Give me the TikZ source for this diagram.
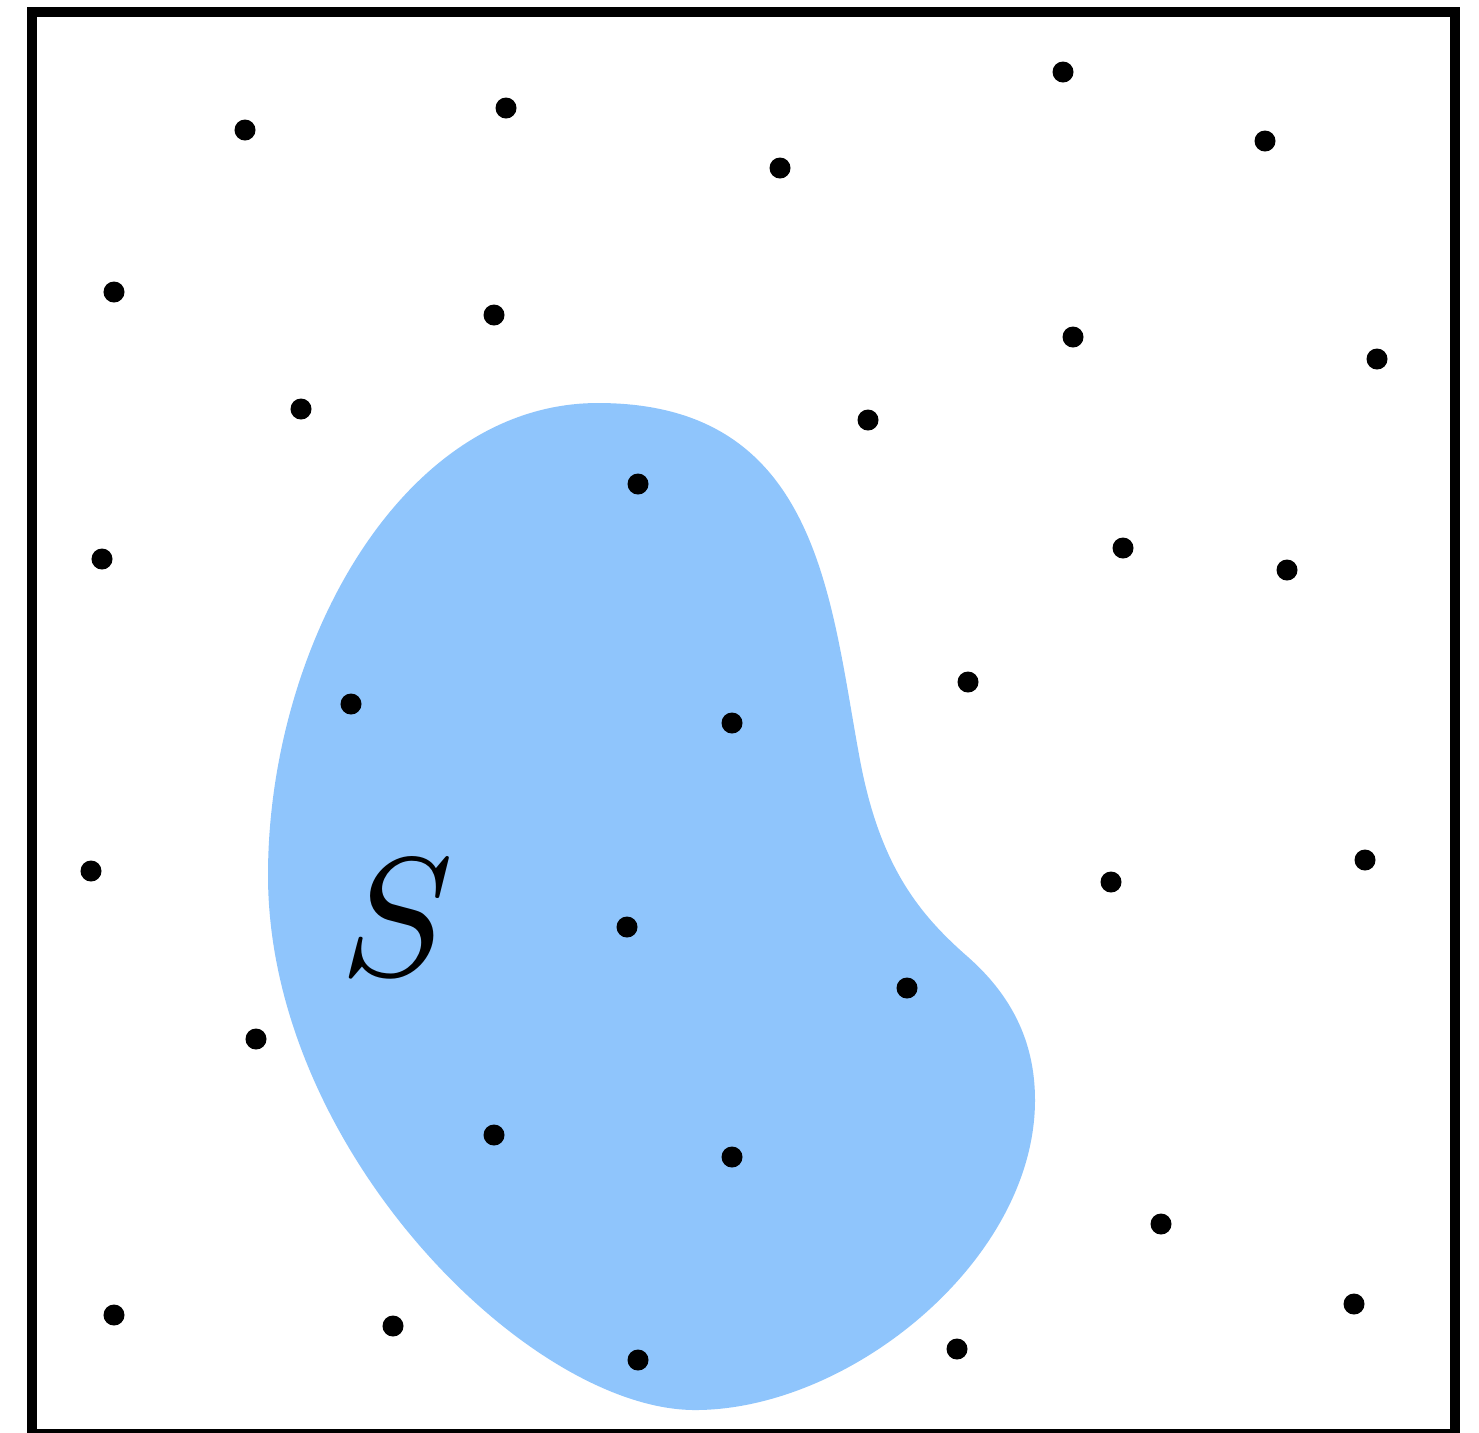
\documentclass[tikz,border=0pt]{standalone}
\begin{document}
\begin{tikzpicture}[x=0.01cm,y=-0.01cm,
  dot/.style={circle,fill=black,inner sep=0pt,minimum size=0.21cm},
  region/.style={fill=blobblue,draw=none}]
\definecolor{blobblue}{RGB}{143,197,252}
\useasboundingbox (0,0) rectangle (1479,1432);
\fill[white] (0,0) rectangle (1479,1432);
% region S
\path[region] (598,403)
  .. controls (820,403) and (830,600) .. (860,760)
  .. controls (880,867) and (920,915) .. (968,957)
  .. controls (1010,994) and (1035,1040) .. (1035,1100)
  .. controls (1035,1260) and (850,1410) .. (695,1410)
  .. controls (530,1410) and (268,1150) .. (268,875)
  .. controls (268,650) and (400,403) .. (598,403) -- cycle;
\node[scale=4.8] (S) at (397,918) {$S$};
% frame
\draw[line width=0.095cm] (32,12) rectangle (1455,1434);
% points
\foreach \x/\y [count=\i] in {245/130,506/108,1063/72,1265/141,780/168,114/292,494/315,
 1073/337,1377/359,301/409,868/420,638/484,102/559,1123/548,1287/570,968/682,
 351/704,732/723,91/871,1111/882,1365/860,627/927,907/988,256/1039,494/1135,
 732/1157,1161/1224,114/1315,393/1326,638/1360,957/1349,1354/1304}
 \node[dot] (p\i) at (\x,\y) {};
\end{tikzpicture}
\end{document}
